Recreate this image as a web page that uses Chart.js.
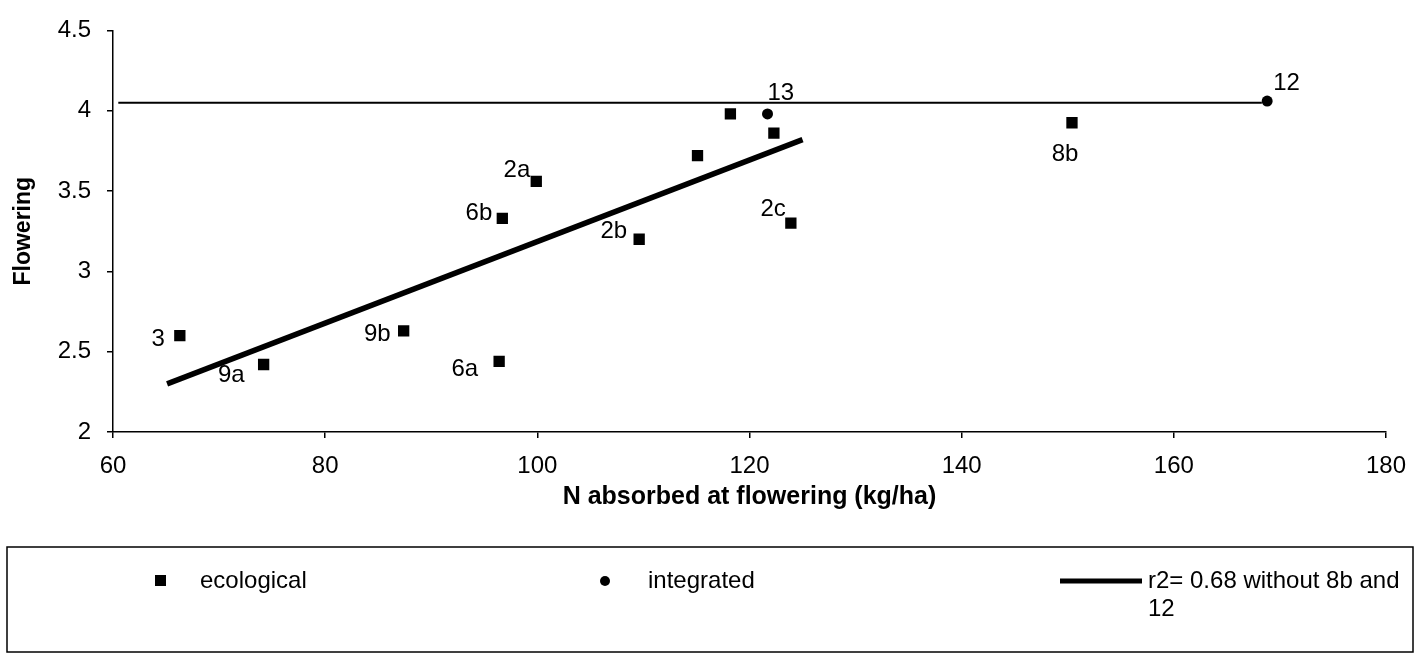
<!DOCTYPE html>
<html>
<head>
<meta charset="utf-8">
<script src="https://cdn.jsdelivr.net/npm/chart.js@4.4.1/dist/chart.umd.min.js"></script>
<style>
  body { margin: 0; background: #fff; }
</style>
</head>
<body>
<canvas id="grafik" width="1420" height="656"></canvas>
<script>
// data
const ekoX = [66.3, 74.2, 87.4, 96.4, 96.7, 99.9, 109.6, 115.1, 118.2, 122.3, 123.9, 150.4];
const ekoY = [2.60, 2.42, 2.63, 2.44, 3.33, 3.56, 3.20, 3.72, 3.98, 3.86, 3.30, 3.925];
const ekoNama = ['3', '9a', '9b', '6a', '6b', '2a', '2b', '', '', '', '2c', '8b'];

const intX = [121.7, 168.8];
const intY = [3.98, 4.06];
const intNama = ['13', '12'];

const trenX = [65.1, 125.0];
const trenY = [2.30, 3.82];

const batasX = [60.5, 168.3];
const batasY = [4.05, 4.05];

const xTicks = [60, 80, 100, 120, 140, 160, 180];
const yTicks = [2, 2.5, 3, 3.5, 4, 4.5];

const legendaTeks = ['ecological', 'integrated', 'r2= 0.68 without 8b and', '12'];

const FONT = '"Liberation Sans", Arial, sans-serif';

function titik(xs, ys) {
    return xs.map((x, i) => ({ x: x, y: ys[i] }));
}

// geser label (px) relatif ke titik
const geserLabel = {
    '3':  { dx: -15, dy: 4,  align: 'right' },
    '9a': { dx: -19, dy: 11, align: 'right' },
    '9b': { dx: -13, dy: 4,  align: 'right' },
    '6a': { dx: -21, dy: 8,  align: 'right' },
    '6b': { dx: -10, dy: -5, align: 'right' },
    '2a': { dx: -6,  dy: -11, align: 'right' },
    '2b': { dx: -12, dy: -8, align: 'right' },
    '2c': { dx: -5,  dy: -14, align: 'right' },
    '13': { dx: 0,   dy: -21, align: 'left' },
    '12': { dx: 6,   dy: -18, align: 'left' },
    '8b': { dx: -7,  dy: 32, align: 'center' }
};

const pluginLabel = {
    id: 'labelTitik',
    afterDatasetsDraw(chart) {
        const ctx = chart.ctx;
        ctx.save();
        ctx.font = '24px ' + FONT;
        ctx.fillStyle = '#000';
        ctx.textBaseline = 'middle';
        [[0, ekoNama], [1, intNama]].forEach(([idx, nama]) => {
            const meta = chart.getDatasetMeta(idx);
            meta.data.forEach((el, i) => {
                const n = nama[i];
                if (!n) return;
                const g = geserLabel[n];
                ctx.textAlign = g.align;
                ctx.fillText(n, el.x + g.dx, el.y + g.dy);
            });
        });
        ctx.restore();
    }
};

// kotak legenda di bawah grafik
const pluginLegenda = {
    id: 'legendaKotak',
    afterDraw(chart) {
        const ctx = chart.ctx;
        ctx.save();
        ctx.strokeStyle = '#000';
        ctx.lineWidth = 1.5;
        ctx.strokeRect(7, 547, 1406, 105);
        const y = 581;
        ctx.fillStyle = '#000';
        ctx.fillRect(155, y - 6, 11, 11);
        ctx.beginPath();
        ctx.arc(605, y, 5, 0, Math.PI * 2);
        ctx.fill();
        ctx.lineWidth = 5;
        ctx.beginPath();
        ctx.moveTo(1060, y);
        ctx.lineTo(1142, y);
        ctx.stroke();
        ctx.font = '24px ' + FONT;
        ctx.textBaseline = 'middle';
        ctx.textAlign = 'left';
        ctx.fillText(legendaTeks[0], 200, y);
        ctx.fillText(legendaTeks[1], 648, y);
        ctx.fillText(legendaTeks[2], 1148, y);
        ctx.fillText(legendaTeks[3], 1148, y + 28);
        ctx.restore();
    }
};

const config = {
    type: 'scatter',
    data: {
        datasets: [{
            label: 'ecological',
            data: titik(ekoX, ekoY),
            pointStyle: 'rect',
            pointRadius: 8,
            backgroundColor: '#000',
            borderColor: '#000',
            borderWidth: 0
        }, {
            label: 'integrated',
            data: titik(intX, intY),
            pointStyle: 'circle',
            pointRadius: 5.5,
            backgroundColor: '#000',
            borderColor: '#000',
            borderWidth: 0
        }, {
            label: 'r2= 0.68 without 8b and 12',
            data: titik(trenX, trenY),
            showLine: true,
            borderColor: '#000',
            borderWidth: 5.5,
            pointRadius: 0
        }, {
            label: 'batas',
            data: titik(batasX, batasY),
            showLine: true,
            borderColor: '#000',
            borderWidth: 2,
            pointRadius: 0
        }]
    },
    options: {
        responsive: false,
        animation: false,
        layout: {
            padding: { left: 0, right: 33, top: 19, bottom: 141 }
        },
        plugins: {
            legend: { display: false },
            tooltip: { enabled: false }
        },
        scales: {
            x: {
                type: 'linear',
                min: 60,
                max: 180,
                afterBuildTicks: (s) => { s.ticks = xTicks.map(v => ({ value: v })); },
                afterFit: (s) => { s.height = 83; },
                ticks: {
                    color: '#000',
                    font: { family: FONT, size: 24 },
                    padding: 14
                },
                grid: { drawOnChartArea: false, color: '#000', tickLength: 6, lineWidth: 1.5 },
                border: { color: '#000', width: 1.5 },
                title: {
                    display: true,
                    text: 'N absorbed at flowering (kg/ha)',
                    color: '#000',
                    font: { family: FONT, size: 25, weight: 'bold' },
                    padding: { top: 4, bottom: 3 }
                }
            },
            y: {
                min: 2,
                max: 4.5,
                afterBuildTicks: (s) => { s.ticks = yTicks.map(v => ({ value: v })); },
                afterFit: (s) => { s.width = 113; },
                ticks: {
                    color: '#000',
                    font: { family: FONT, size: 24 },
                    padding: 16,
                    callback: (v) => String(v)
                },
                grid: { drawOnChartArea: false, color: '#000', tickLength: 6, lineWidth: 1.5 },
                border: { color: '#000', width: 1.5 },
                title: {
                    display: true,
                    text: 'Flowering',
                    color: '#000',
                    font: { family: FONT, size: 23, weight: 'bold' },
                    padding: { top: 10, bottom: 0 }
                }
            }
        }
    },
    plugins: [pluginLabel, pluginLegenda]
};

var grafik = new Chart(document.getElementById('grafik'), config);
</script>
</body>
</html>
